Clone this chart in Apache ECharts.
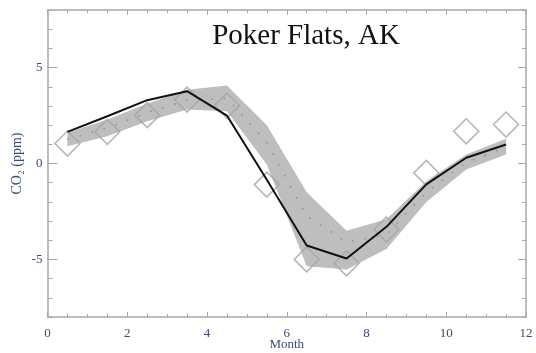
<!DOCTYPE html>
<html>
<head>
<meta charset="utf-8">
<title>Poker Flats, AK</title>
<script src="https://cdn.jsdelivr.net/npm/echarts@6/dist/echarts.min.js"></script>
<style>
  html, body { margin: 0; padding: 0; background: #fff; }
  #chart { width: 536px; height: 353px; }
</style>
</head>
<body>
<div id="chart"></div>
<script>
// Mid-month positions
var months = [0.5, 1.5, 2.5, 3.5, 4.5, 5.5, 6.5, 7.5, 8.5, 9.5, 10.5, 11.5];

// Observed seasonal cycle (open diamonds)
var observed = [1.04, 1.65, 2.52, 3.33, 3.02, -1.1, -5.0, -5.2, -3.44, -0.49, 1.68, 2.03];

// Model run (solid black line)
var model = [1.65, 2.46, 3.3, 3.77, 2.5, -0.85, -4.27, -4.95, -3.3, -1.09, 0.3, 0.99];

// Ensemble spread: upper / lower envelope and its mean (dotted)
var bandUpper = [1.6, 2.29, 3.12, 3.85, 4.06, 2.0, -1.5, -3.5, -2.9, -0.92, 0.47, 1.29];
var bandLower = [0.9, 1.42, 2.2, 2.81, 2.72, -0.05, -5.35, -5.52, -4.45, -2.0, -0.31, 0.47];
var bandMean  = [1.25, 1.85, 2.65, 3.3, 3.4, 1.1, -2.75, -4.1, -3.7, -1.5, 0.05, 0.85];

// Axis ranges and labelled ticks
var xRange = [0, 12];
var yRange = [-8, 8];
var yTickLabels = [-5, 0, 5];

var serif = '"Liberation Serif", "DejaVu Serif", serif';
var frameColor = '#a8a8a8';
var labelColor = '#3b4a7a';

function zip(xs, ys) {
  return xs.map(function (x, i) { return [x, ys[i]]; });
}

var chart = echarts.init(document.getElementById('chart'), null, { renderer: 'canvas' });

var hiddenLabel = { show: false };
var frameLine = { show: true, onZero: false, lineStyle: { color: frameColor, width: 1.5 } };

var option = {
  backgroundColor: '#ffffff',
  animation: false,
  title: {
    text: 'Poker Flats, AK',
    left: 301,
    top: 17,
    textAlign: 'center',
    textStyle: { fontFamily: serif, fontSize: 29, fontWeight: 'normal', color: '#111' }
  },
  grid: { left: 47.5, right: 10, top: 10, bottom: 36, containLabel: false, outerBoundsMode: 'none' },
  xAxis: [
    {
      type: 'value', position: 'bottom', min: xRange[0], max: xRange[1], interval: 2,
      name: 'Month', nameLocation: 'middle', nameGap: 21, nameMoveOverlap: false,
      nameTextStyle: { fontFamily: serif, fontSize: 13, color: labelColor },
      axisLine: frameLine,
      axisTick: { show: true, inside: true, length: 5, lineStyle: { color: frameColor } },
      minorTick: { show: true, splitNumber: 4, length: 3, lineStyle: { color: frameColor } },
      axisLabel: { fontFamily: serif, fontSize: 13, color: labelColor, margin: 10 },
      splitLine: { show: false }
    },
    {
      type: 'value', position: 'top', min: xRange[0], max: xRange[1], interval: 2,
      axisLine: frameLine,
      axisTick: { show: true, inside: true, length: 5, lineStyle: { color: frameColor } },
      minorTick: { show: true, splitNumber: 4, length: 3, lineStyle: { color: frameColor } },
      axisLabel: hiddenLabel,
      splitLine: { show: false }
    }
  ],
  yAxis: [
    {
      type: 'value', position: 'left', min: yRange[0], max: yRange[1], interval: 1,
      name: 'CO\u2082 (ppm)', nameLocation: 'middle', nameGap: 23, nameRotate: 90,
      nameTextStyle: { fontFamily: serif, fontSize: 14, color: labelColor },
      axisLine: frameLine,
      axisTick: { show: true, inside: true, length: 5, lineStyle: { color: frameColor } },
      axisLabel: hiddenLabel,
      splitLine: { show: false }
    },
    {
      type: 'value', position: 'left', min: yRange[0], max: yRange[1],
      axisLine: { show: false, onZero: false },
      axisTick: { show: true, inside: true, length: 10, customValues: yTickLabels, lineStyle: { color: frameColor } },
      axisLabel: { customValues: yTickLabels, fontFamily: serif, fontSize: 13, color: labelColor, margin: 5 },
      splitLine: { show: false }
    },
    {
      type: 'value', position: 'right', min: yRange[0], max: yRange[1], interval: 1,
      axisLine: frameLine,
      axisTick: { show: true, inside: true, length: 4, lineStyle: { color: frameColor } },
      axisLabel: hiddenLabel,
      splitLine: { show: false }
    },
    {
      type: 'value', position: 'right', min: yRange[0], max: yRange[1],
      axisLine: { show: false, onZero: false },
      axisTick: { show: true, inside: true, length: 8, customValues: yTickLabels, lineStyle: { color: frameColor } },
      axisLabel: { show: false, customValues: yTickLabels },
      splitLine: { show: false }
    }
  ],
  series: [
    {
      // shaded spread polygon between the lower and upper envelopes
      type: 'custom',
      xAxisIndex: 0, yAxisIndex: 0,
      z: 1,
      silent: true,
      data: [[months[0], bandLower[0]]],
      renderItem: function (params, api) {
        var pts = [];
        for (var i = 0; i < months.length; i++) pts.push(api.coord([months[i], bandUpper[i]]));
        for (var j = months.length - 1; j >= 0; j--) pts.push(api.coord([months[j], bandLower[j]]));
        return {
          type: 'polygon',
          shape: { points: pts },
          style: { fill: '#bebebe', stroke: null }
        };
      }
    },
    {
      type: 'line',
      xAxisIndex: 0, yAxisIndex: 0,
      z: 2,
      data: zip(months, bandMean),
      showSymbol: false,
      lineStyle: { color: '#8f8f8f', width: 1.5, type: [1.5, 11] }
    },
    {
      type: 'scatter',
      xAxisIndex: 0, yAxisIndex: 0,
      z: 3,
      data: zip(months, observed),
      symbol: 'diamond',
      symbolSize: 25,
      itemStyle: { color: 'rgba(0,0,0,0)', borderColor: '#a5a5a5', borderWidth: 1.6 }
    },
    {
      type: 'line',
      xAxisIndex: 0, yAxisIndex: 0,
      z: 4,
      data: zip(months, model),
      showSymbol: false,
      lineStyle: { color: '#111111', width: 2 }
    }
  ]
};

chart.setOption(option);
</script>
</body>
</html>
